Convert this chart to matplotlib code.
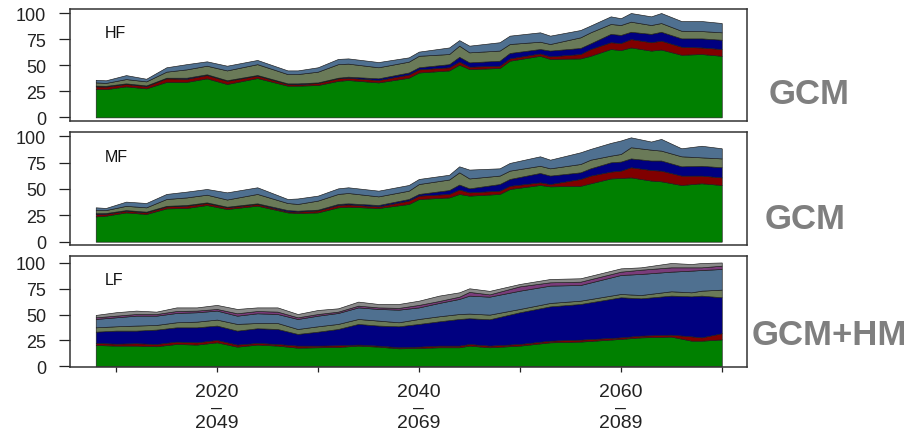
import numpy as np
import matplotlib.pyplot as plt

plt.rcParams['font.family'] = ['Liberation Sans', 'DejaVu Sans']

# start years of the 30-year windows (HF and MF share the same years)
years = [2008, 2009, 2011, 2013, 2015, 2017, 2019, 2021, 2024, 2027,
         2028, 2030, 2032, 2033, 2036, 2039, 2040, 2043, 2044, 2045,
         2048, 2049, 2052, 2053, 2056, 2057, 2059, 2060, 2061, 2063,
         2064, 2066, 2068, 2070]

# HF contributions (stacked bottom to top)
hf_green = [27.2, 27, 29.7, 27.8, 34, 34, 37.4, 32, 37.7, 30.4,
            30.4, 31, 35, 35.8, 33.5, 38, 43, 45, 50.5, 46.3,
            47.3, 54.3, 59, 56, 56.5, 59, 65.5, 64.5, 67, 64,
            65, 60, 60.7, 59]
hf_red = [2.5, 2.5, 2.3, 2.2, 3.4, 3, 3.2, 3, 2.3, 1.6,
          1.3, 2, 2.4, 2.2, 2.3, 3, 3, 3, 3, 2.3,
          2.2, 2.2, 2.3, 2.5, 4.2, 6.5, 6.5, 6.7, 8, 8,
          8.5, 7.7, 6.3, 6.5]
hf_navy = [0.7, 0.7, 0.6, 0.6, 0.6, 1, 0.7, 0.6, 0.6, 0.6,
           0.9, 0.5, 0.6, 1, 1.6, 2, 2, 3, 4.5, 4.1,
           4.8, 5.2, 4.2, 5.5, 5.8, 5.4, 8, 7.8, 7, 8,
           8.5, 8, 8.7, 8.9]
hf_olive = [3.1, 2.8, 4.1, 3.9, 5.8, 8, 8.2, 9.4, 10.4, 8.9,
            8.9, 10.3, 13, 12.5, 10.6, 10.4, 11, 9.7, 10.7, 9.6,
            9.7, 8.6, 7, 6.3, 10.2, 10.6, 9.5, 9.5, 9.7, 8.5,
            8.4, 7.3, 7, 7.1]
hf_steel = [2.5, 2.5, 3.8, 2.5, 4.2, 5, 4.2, 4.5, 4, 3.5,
            3.5, 4.2, 5, 5, 5, 4.1, 4, 6.3, 5.3, 6.4,
            8, 8, 9, 8, 7, 6.5, 7.3, 6.5, 8.3, 8.3,
            9.6, 9.3, 9.6, 8.9]

# MF contributions
mf_green = [24, 24.7, 27.8, 26.3, 31.6, 32, 34.8, 31, 34.2, 27.8,
            27.2, 27.8, 32.6, 33.2, 32, 35.8, 40.5, 42, 45.3, 43.7,
            45.3, 50, 53.8, 52.5, 53, 55.4, 60, 60.4, 61, 58,
            57.3, 53.8, 55.4, 53.8]
mf_red = [2.3, 1.8, 1.6, 1.5, 1.9, 2.2, 1.9, 1.6, 1.6, 1,
          1.3, 1.9, 2.2, 2.2, 1.5, 3.2, 3.2, 3.3, 4.2, 3.1,
          3.1, 3, 2.5, 2.2, 6.5, 7.3, 6.5, 7, 9.6, 10,
          10.1, 8.9, 7.3, 7.2]
mf_navy = [0.7, 0.7, 0.6, 0.7, 0.5, 0.6, 0.6, 0.6, 0.6, 1.2,
           0.9, 0.7, 1, 1, 1.3, 1.5, 1.6, 3.7, 4.7, 3.8,
           6.3, 6.5, 8.9, 8, 6.3, 6.9, 8.8, 8.6, 8.4, 9,
           9.6, 8.8, 9.3, 9.6]
mf_olive = [3, 2.8, 4, 4.1, 6.5, 7.2, 7.3, 6.8, 8.9, 6.7,
            6.4, 8.6, 9.5, 9.8, 8.2, 7.9, 9.4, 10, 11.6, 9.4,
            8, 7.9, 6.8, 6.9, 7.9, 8.2, 6.3, 7.2, 10.6, 10.3,
            9.4, 9.5, 8, 8.4]
mf_steel = [2.6, 2, 4, 4.1, 4.8, 5.5, 5.4, 6.8, 6.3, 3.8,
            5.2, 4.7, 5.3, 5.4, 5.4, 5.4, 4.8, 4.5, 5.7, 8.4,
            6.9, 7.3, 9, 8.2, 11.1, 10.2, 12.1, 12.8, 9.4, 7.7,
            11.1, 7.6, 11, 9.6]

# LF contributions
years_lf = [2008, 2010, 2012, 2014, 2016, 2018, 2020, 2022, 2024, 2026,
            2028, 2030, 2032, 2034, 2036, 2038, 2040, 2042, 2044, 2045,
            2047, 2050, 2053, 2056, 2060, 2062, 2065, 2067, 2068, 2070]
lf_green = [20.6, 20, 20, 19.4, 21.6, 21, 23.2, 19, 21, 20,
            18, 18.4, 18.7, 20, 19, 17.4, 17.7, 18.4, 18.4, 20,
            18.4, 20, 23.2, 23.9, 26.5, 28, 28.7, 24.8, 24.8, 26]
lf_red = [2, 1.9, 2.3, 2.2, 2.3, 2.2, 2.3, 2, 1.6, 1.6,
          2, 1.6, 1.6, 1, 1, 1, 1.3, 1.6, 1.6, 1.6,
          1.6, 1.6, 1.6, 1.9, 1.5, 1.7, 1.9, 4.2, 3.2, 6]
lf_navy = [10.9, 12.6, 12.2, 13.9, 13.8, 14.5, 13.9, 13.5, 14.2, 14.5,
           11.3, 13.5, 15.8, 20, 19.4, 20.3, 22, 23.5, 25.8, 24.9,
           25.5, 30.7, 33.2, 34.5, 38.8, 36.1, 37.8, 38.7, 40.4, 34.8]
lf_olive = [4.2, 4.2, 4.9, 4.5, 4.9, 5.5, 5.8, 6.5, 5.1, 5.8,
            4.8, 5.2, 4.9, 4.8, 4.8, 3.9, 4.8, 4.9, 4.8, 4.5,
            4.5, 3.2, 3.3, 3.2, 3.2, 3.2, 4.2, 3.9, 4.8, 7.4]
lf_steel = [8.1, 8.7, 9.6, 9, 9, 9.1, 8.7, 8, 9.4, 8.7,
            9.7, 10.3, 10.6, 11.2, 11.3, 12.2, 11.2, 12.9, 14.6, 17.4,
            17.4, 17.7, 16.8, 15.2, 18.4, 20.4, 19, 21, 20, 20]
lf_purple = [1.6, 1.6, 1.6, 1.6, 1.9, 1.6, 1.6, 2.3, 2.2, 2.3,
             1.6, 1.6, 1.3, 1.7, 1.5, 1.7, 2.4, 1.9, 2.2, 3.6,
             2.2, 4.2, 3.2, 3.2, 3.2, 4.1, 4.2, 3.2, 2.6, 3.2]
lf_grey = [2.3, 3.3, 3.3, 2.3, 3.5, 3.1, 3.9, 4.2, 3.5, 4.1,
           3.2, 3.9, 3.2, 3.9, 3.3, 3.8, 4.1, 5.2, 4.2, 3.5,
           3.4, 2.3, 3.2, 3.3, 3.2, 2.3, 4.2, 3.2, 4.2, 3.1]

xtick_years = [2010, 2020, 2030, 2040, 2050, 2060, 2070]
xtick_labels = ['', '2020\n\u2013\n2049', '', '2040\n\u2013\n2069', '',
                '2060\n\u2013\n2089', '']
yticks = [0, 25, 50, 75, 100]

colours = ['#008000', '#800000', '#000080', '#6a7a58', '#4f7090',
           '#7a3c7a', '#8a8a8a']

fig = plt.figure(figsize=(9.16, 4.31), dpi=100)

panels = [
    ([0.0764, 0.7169, 0.7391, 0.2610], years,
     [hf_green, hf_red, hf_navy, hf_olive, hf_steel], 'HF', (-3.5, 104.3)),
    ([0.0764, 0.4281, 0.7391, 0.2622], years,
     [mf_green, mf_red, mf_navy, mf_olive, mf_steel], 'MF', (-3.6, 103.6)),
    ([0.0764, 0.1462, 0.7391, 0.2564], years_lf,
     [lf_green, lf_red, lf_navy, lf_olive, lf_steel, lf_purple, lf_grey],
     'LF', (-0.7, 106.3)),
]

axes = []
for rect, x, layers, name, ylim in panels:
    ax = fig.add_axes(rect)
    ax.stackplot(x, *layers, colors=colours[:len(layers)],
                 edgecolor='#1a1a1a', linewidth=0.45)
    ax.set_xlim(2005.45, 2072.5)
    ax.set_ylim(*ylim)
    ax.set_yticks(yticks)
    ax.tick_params(axis='y', direction='out', length=8, width=0.9, pad=9,
                   labelsize=13, colors='#222222')
    ax.tick_params(axis='x', bottom=False, labelbottom=False)
    for s in ax.spines.values():
        s.set_color('#333333')
        s.set_linewidth(1.1)
    ax.text(0.052, 0.79, name, transform=ax.transAxes, fontsize=11.5,
            va='center', ha='left', color='#111111')
    axes.append(ax)

ax = axes[-1]
ax.set_xticks(xtick_years)
ax.set_xticklabels(xtick_labels)
ax.tick_params(axis='x', bottom=True, labelbottom=True, direction='out',
               length=3.6, width=0.9, labelsize=14, pad=8, colors='#222222')
for t in ax.get_xticklabels():
    t.set_linespacing(0.9)

# model labels on the right
label_kw = dict(fontsize=25, fontweight='bold', color='#7f7f7f',
                ha='center', va='center')
fig.text(809 / 916, 1 - 94 / 431, 'GCM', **label_kw)
fig.text(805.5 / 916, 1 - 220 / 431, 'GCM', **label_kw)
fig.text(829 / 916, 1 - 336 / 431, 'GCM+HM', **label_kw)

fig.savefig('out.png', dpi=100)
